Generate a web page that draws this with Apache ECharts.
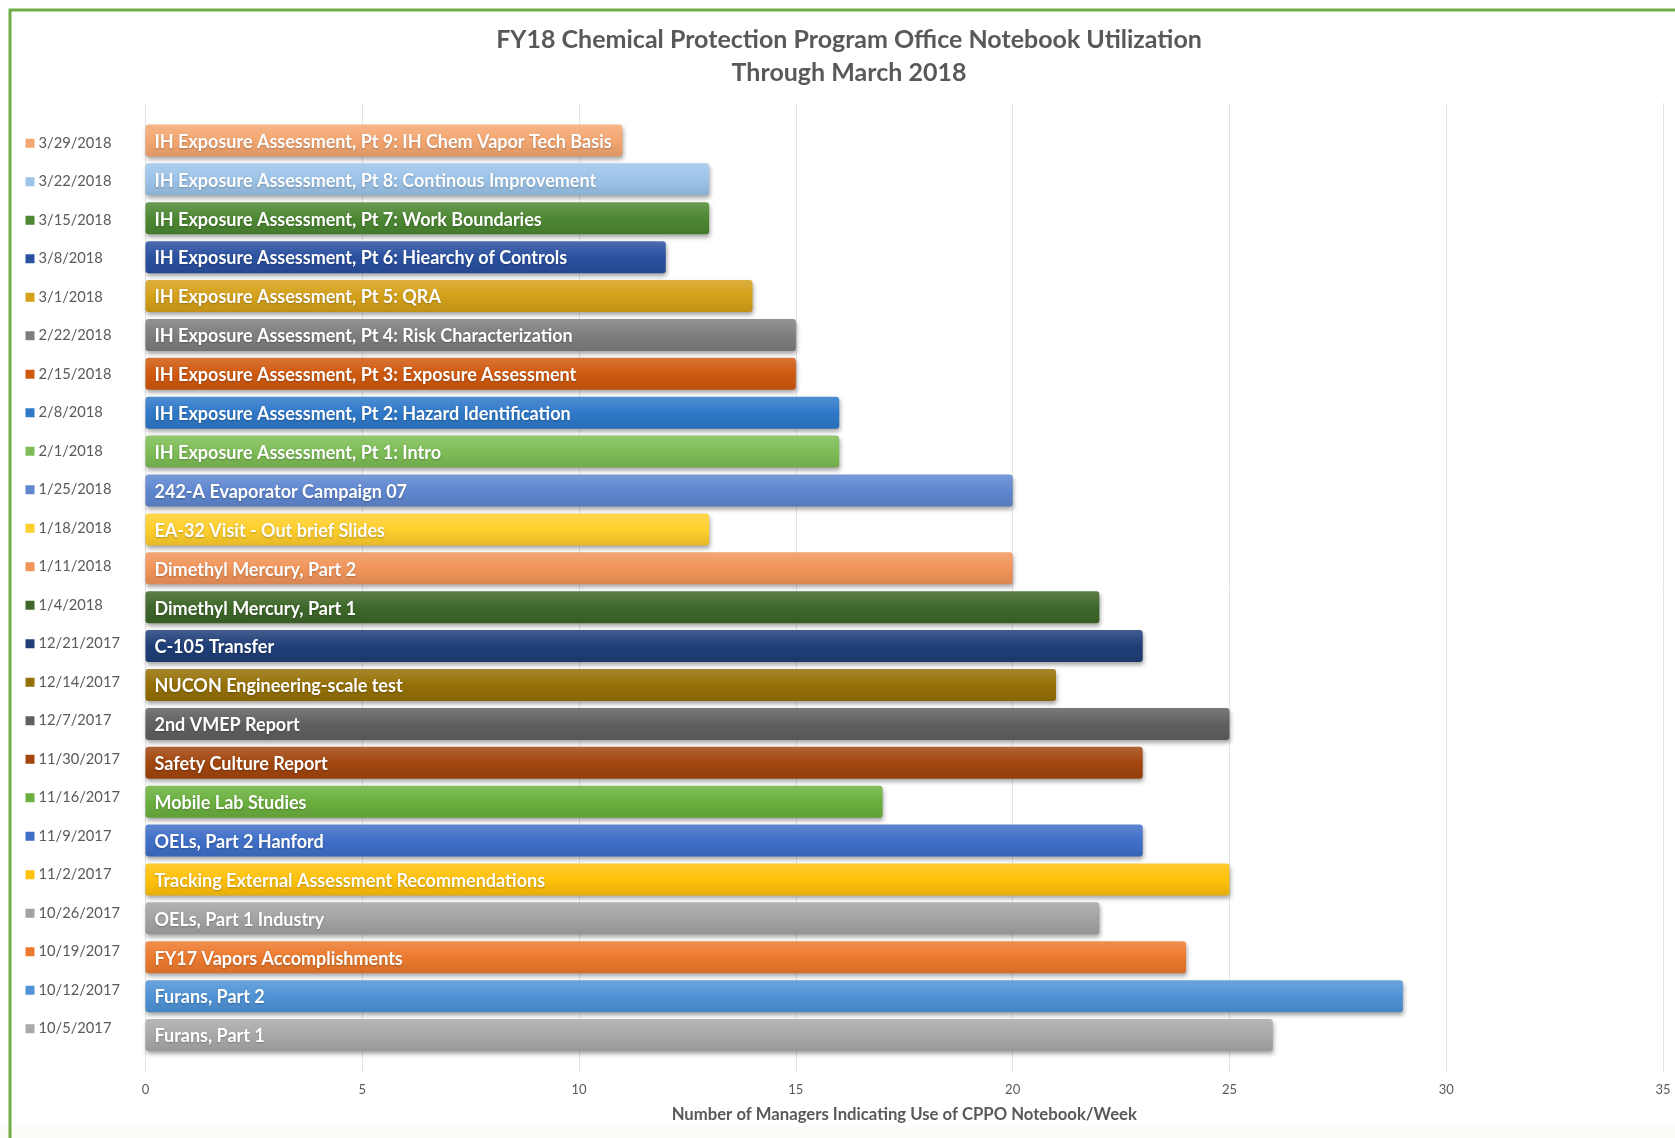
<!DOCTYPE html>
<html>
<head>
<meta charset="utf-8">
<script src="https://cdn.jsdelivr.net/npm/echarts@6/dist/echarts.min.js"></script>
<style>
  html, body { margin: 0; padding: 0; background: #fff; }
  #chart { width: 1675px; height: 1138px; }
</style>
</head>
<body>
<div id="chart"></div>
<script>
// weeks, bottom bar first
const dates = ['10/5/2017', '10/12/2017', '10/19/2017', '10/26/2017', '11/2/2017', '11/9/2017',
  '11/16/2017', '11/30/2017', '12/7/2017', '12/14/2017', '12/21/2017', '1/4/2018', '1/11/2018',
  '1/18/2018', '1/25/2018', '2/1/2018', '2/8/2018', '2/15/2018', '2/22/2018', '3/1/2018',
  '3/8/2018', '3/15/2018', '3/22/2018', '3/29/2018'];
const topics = ['Furans, Part 1', 'Furans, Part 2', 'FY17 Vapors Accomplishments', 'OELs, Part 1 Industry',
  'Tracking External Assessment Recommendations', 'OELs, Part 2 Hanford', 'Mobile Lab Studies',
  'Safety Culture Report', '2nd VMEP Report', 'NUCON Engineering-scale test', 'C-105 Transfer',
  'Dimethyl Mercury, Part 1', 'Dimethyl Mercury, Part 2', 'EA-32 Visit - Out brief Slides',
  '242-A Evaporator Campaign 07', 'IH Exposure Assessment, Pt 1: Intro',
  'IH Exposure Assessment, Pt 2: Hazard Identification', 'IH Exposure Assessment, Pt 3: Exposure Assessment',
  'IH Exposure Assessment, Pt 4: Risk Characterization', 'IH Exposure Assessment, Pt 5: QRA',
  'IH Exposure Assessment, Pt 6: Hiearchy of Controls', 'IH Exposure Assessment, Pt 7: Work Boundaries',
  'IH Exposure Assessment, Pt 8: Continous Improvement', 'IH Exposure Assessment, Pt 9: IH Chem Vapor Tech Basis'];
const managers = [26, 29, 24, 22, 25, 23, 17, 23, 25, 21, 23, 22, 20, 13, 20, 16, 16, 15, 15, 14, 12, 13, 13, 11];
const xTicks = [0, 5, 10, 15, 20, 25, 30, 35];

const colors = ['#A9A9A9', '#4F93D6', '#EC7A2E', '#A3A3A3', '#FFC10A', '#3F6FC8', '#6BB03F',
  '#A2460E', '#606060', '#957005', '#1F3E78', '#3E6729', '#F1955A', '#FFCF2C', '#5F87D0',
  '#7DBD56', '#2F79C9', '#D0590F', '#7E7E7E', '#D5A11A', '#2A50A0', '#4D8832', '#9CC4E9', '#F4A771'];

const font = 'Lato, "Open Sans", sans-serif';

function shade(hex, amt) {
  let n = parseInt(hex.slice(1), 16);
  let r = n >> 16, g = (n >> 8) & 255, b = n & 255;
  const f = c => Math.max(0, Math.min(255, Math.round(amt > 0 ? c + (255 - c) * amt : c * (1 + amt))));
  return 'rgb(' + f(r) + ',' + f(g) + ',' + f(b) + ')';
}

const richLabels = { t: { fontFamily: font, fontSize: 14.7, color: '#595959', padding: [0, 0, 0, 4] } };
colors.forEach((c, i) => {
  richLabels['m' + i] = { width: 9, height: 9, backgroundColor: c };
});

const chart = echarts.init(document.getElementById('chart'));
const option = {
  backgroundColor: '#fff',
  animation: false,
  title: {
    text: 'FY18 Chemical Protection Program Office Notebook Utilization\nThrough March 2018',
    left: 844,
    top: 18,
    textAlign: 'center',
    textStyle: { fontFamily: font, fontSize: 25, fontWeight: 'bold', color: '#595959', lineHeight: 33 }
  },
  graphic: [
    { type: 'rect', shape: { x: 0, y: 1126, width: 1675, height: 12 }, style: { fill: '#FEFCF6' }, z: -1 },
    { type: 'polyline', shape: { points: [[10, 1138], [10, 10], [1675, 10]] },
      style: { stroke: '#6FAC46', lineWidth: 3, fill: null } }
  ],
  grid: [
    { left: 145.5, right: 12, top: 121, bottom: 83.5 },
    { left: 145.5, right: 12, top: 103, bottom: 66 },
    // the date list on the left is spaced a little tighter than the bars
    { left: 145.5, right: 12, top: 124, bottom: 90 }
  ],
  xAxis: [
    { gridIndex: 0, type: 'value', min: 0, max: 35, interval: 5, show: false },
    {
      gridIndex: 1, type: 'value', min: 0, max: 35, interval: 5,
      axisLine: { show: false }, axisTick: { show: false },
      splitLine: { lineStyle: { color: '#E3E3E3', width: 1 } },
      axisLabel: { margin: 11, fontFamily: font, fontSize: 13, color: '#595959',
        formatter: v => xTicks.indexOf(v) >= 0 ? String(v) : '' },
      name: 'Number of Managers Indicating Use of CPPO Notebook/Week',
      nameLocation: 'middle', nameGap: 34,
      nameTextStyle: { fontFamily: font, fontSize: 16.7, fontWeight: 'bold', color: '#595959' }
    },
    { gridIndex: 2, type: 'value', min: 0, max: 35, show: false }
  ],
  yAxis: [
    { gridIndex: 0, type: 'category', data: dates, show: false },
    { gridIndex: 1, type: 'value', show: false },
    {
      gridIndex: 2, type: 'category', data: dates,
      axisLine: { show: false }, axisTick: { show: false }, splitLine: { show: false },
      axisLabel: {
        align: 'left', margin: 120,
        formatter: (v, i) => '{m' + i + '|}{t|' + v + '}',
        rich: richLabels
      }
    }
  ],
  series: [{
    type: 'bar',
    xAxisIndex: 0, yAxisIndex: 0,
    barWidth: 32,
    data: managers.map((v, i) => ({
      value: v,
      itemStyle: {
        color: new echarts.graphic.LinearGradient(0, 0, 0, 1, [
          { offset: 0, color: shade(colors[i], 0.16) },
          { offset: 0.5, color: colors[i] },
          { offset: 1, color: shade(colors[i], -0.1) }
        ])
      }
    })),
    itemStyle: {
      borderRadius: 3,
      shadowColor: 'rgba(0,0,0,0.35)', shadowBlur: 4, shadowOffsetX: 1, shadowOffsetY: 3
    },
    label: {
      show: true, position: 'insideLeft', distance: 9, offset: [0, 1.5],
      formatter: p => topics[p.dataIndex],
      fontFamily: font, fontSize: 18, fontWeight: 'bold', color: '#fff',
      textShadowColor: 'rgba(0,0,0,0.25)', textShadowBlur: 2, textShadowOffsetY: 1
    }
  }]
};
chart.setOption(option);
</script>
</body>
</html>
